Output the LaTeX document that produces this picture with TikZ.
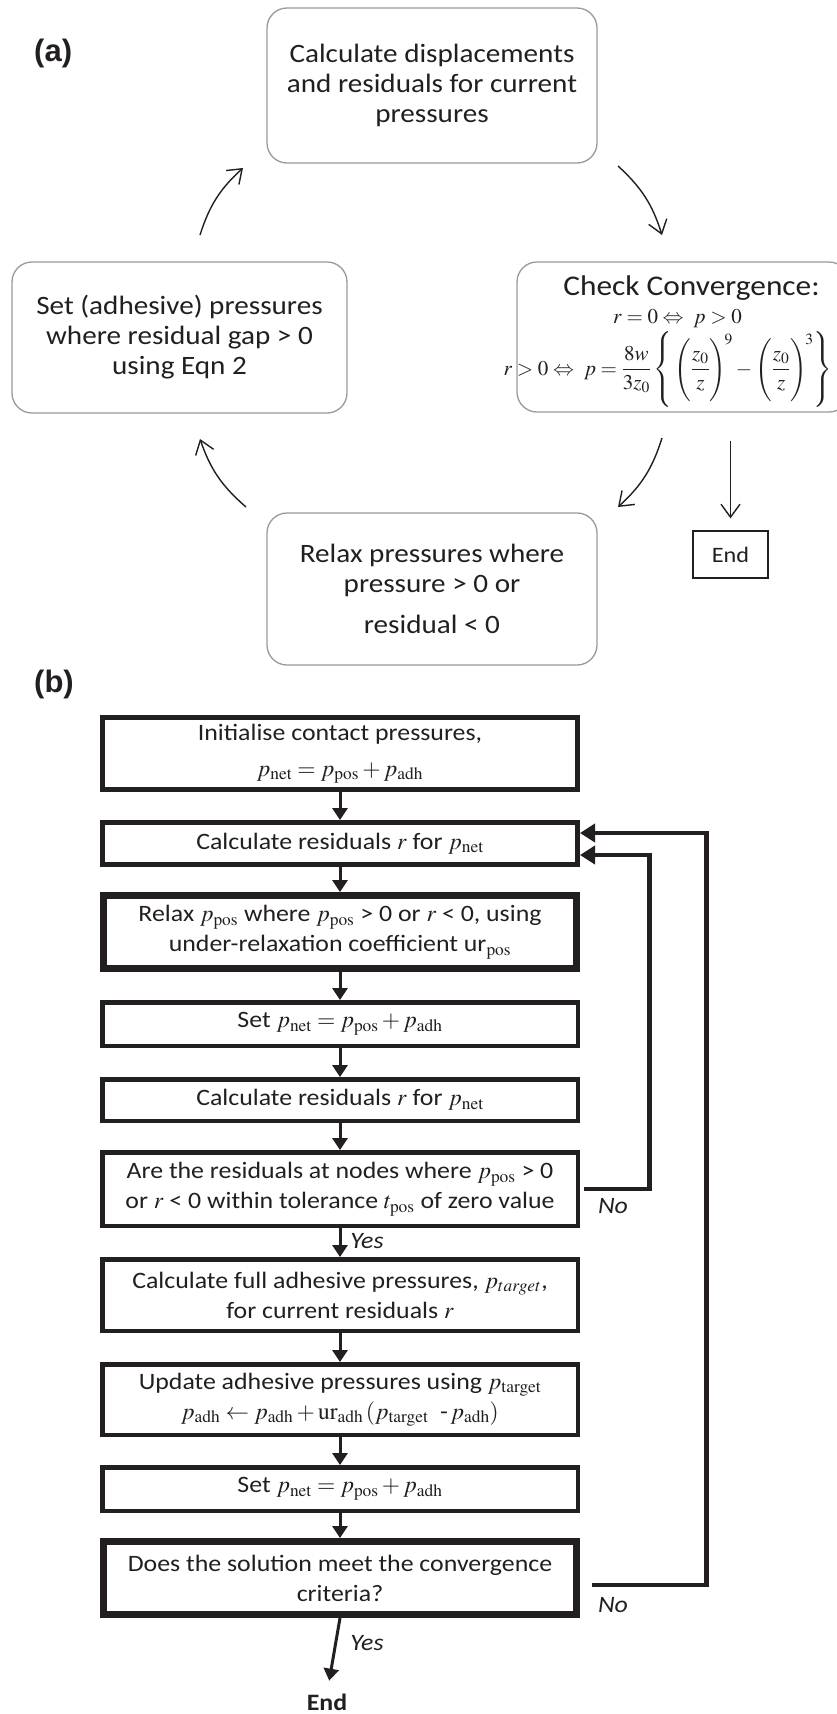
\documentclass[tikz,border=0pt]{standalone}
\usepackage{mathptmx}
\usepackage[no-math]{fontspec}
\setmainfont{Carlito}[FakeStretch=1.1]
\newfontfamily\arialf{Liberation Sans}
\usetikzlibrary{arrows.meta,calc}
\definecolor{txt}{HTML}{231F20}
\definecolor{boxgray}{HTML}{9A9A9A}
\begin{document}
\begin{tikzpicture}[x=1pt,y=-1pt,
  abox/.style={draw=boxgray, line width=1.3pt, rounded corners=20pt, align=center,
    font=\fontsize{26.5}{30}\selectfont, text=txt, inner sep=0pt},
  aarr/.style={draw=txt, line width=1.4pt, -{Straight Barb[length=13pt,width=19pt]}},
  bbox/.style={draw=txt, line width=4.5pt, minimum width=475.5pt, align=center,
    font=\fontsize{23.5}{30}\selectfont, text=txt, inner sep=0pt},
  bthick/.style={bbox, line width=7pt, minimum width=473pt},
  bmid/.style={bbox, line width=5pt, minimum width=475pt},
  barr/.style={draw=txt, line width=3pt, -{Triangle[length=12pt,width=15pt]}},
  fb/.style={draw=txt, line width=4.5pt, -{Triangle[length=15pt,width=18pt]}},
  lab/.style={font=\itshape\fontsize{23.5}{26}\selectfont, text=txt, inner sep=0pt},
  mtxt/.style={font=\fontsize{21}{24}\selectfont, text=txt, inner sep=0pt, anchor=base},
  plab/.style={font=\arialf\bfseries\fontsize{31}{33}\selectfont, text=txt, inner sep=0pt, anchor=west}
]
\useasboundingbox (0,0) rectangle (837,1714);
\clip (0,0) rectangle (837,1714);
\fill[white] (0,0) rectangle (837,1714);

% ---------- part (a) ----------
\node[plab] (la) at (34,53) {(a)};
\node[abox, minimum width=330pt, minimum height=155pt] (ta) at (432,85.5)
  {Calculate displacements\\and residuals for current\\pressures};
\node[abox, minimum width=335pt, minimum height=151pt] (le) at (179.5,337.5)
  {Set (adhesive) pressures\\where residual gap > 0\\using Eqn 2};
\node[abox, minimum width=332pt, minimum height=150pt] (ri) at (683,337) {};
\node[font=\fontsize{28.5}{30}\selectfont, text=txt, inner sep=0pt, anchor=base] (ri1) at (691.5,295) {Check Convergence:};
\node[mtxt] (ri2) at (677.5,323) {$r=0\Leftrightarrow\ p>0$};
\node[mtxt] (ri3) at (668,375)
  {$\displaystyle r>0\Leftrightarrow\ p=\frac{8w}{3z_0}\left\{\rule[-31pt]{0pt}{74pt}\left(\rule[-26pt]{0pt}{63pt}\frac{z_0}{z}\right)^{\!9}-\left(\rule[-26pt]{0pt}{63pt}\frac{z_0}{z}\right)^{\!3}\right\}$};
\node[abox, minimum width=330pt, minimum height=152pt] (bo) at (432,589)
  {Relax pressures where\\pressure > 0 or\\[11pt]residual < 0};
\node[draw=txt, line width=1.3pt, minimum width=75pt, minimum height=47pt, inner sep=0pt,
  font=\fontsize{22}{24}\selectfont, text=txt] (enda) at (730.5,554.5) {End};

\coordinate (a1s) at (200,235);  \coordinate (a1e) at (243,168);
\coordinate (a2s) at (618,166);  \coordinate (a2e) at (662,235);
\coordinate (a3s) at (662,438);  \coordinate (a3e) at (618,507);
\coordinate (a4s) at (246,507);  \coordinate (a4e) at (200,439);
\coordinate (a5s) at (730.5,441);
\draw[aarr] (a1s) to[bend left=15] (a1e);
\draw[aarr] (a2s) to[bend left=15] (a2e);
\draw[aarr] (a3s) to[bend left=15] (a3e);
\draw[aarr] (a4s) to[bend left=15] (a4e);
\draw[aarr, shorten >=12pt] (a5s) -- (enda.north);

% ---------- part (b) ----------
\node[plab] (lb) at (34,684) {(b)};
\node[bmid, minimum height=72pt] (b1) at (340,753.5)
  {Initialise contact pressures,\\[6pt]$p_{\mathrm{net}}=p_{\mathrm{pos}}+p_{\mathrm{adh}}$};
\node[bmid, minimum height=42pt] (b2) at (340,843.5)
  {Calculate residuals $r$ for $p_{\mathrm{net}}$};
\node[bthick, minimum height=73pt] (b3) at (340,932)
  {Relax $p_{\mathrm{pos}}$ where $p_{\mathrm{pos}}$ > 0 or $r$ < 0, using\\under-relaxation coefficient ur$_{\mathrm{pos}}$};
\node[bbox, minimum height=43.5pt] (b4) at (340,1024)
  {Set $p_{\mathrm{net}}=p_{\mathrm{pos}}+p_{\mathrm{adh}}$};
\node[bbox, minimum height=41.5pt] (b5) at (340,1100)
  {Calculate residuals $r$ for $p_{\mathrm{net}}$};
\node[bbox, minimum height=73.5pt] (b6) at (340,1189)
  {Are the residuals at nodes where $p_{\mathrm{pos}}$ > 0\\or $r$ < 0 within tolerance $t_{\mathrm{pos}}$ of zero value};
\node[bbox, minimum height=71.5pt] (b7) at (340,1295)
  {Calculate full adhesive pressures, $p_{target}$,\\for current residuals $r$};
\node[bbox, minimum height=70.5pt] (b8) at (340,1399.5)
  {Update adhesive pressures using $p_{\mathrm{target}}$\\$p_{\mathrm{adh}}\leftarrow p_{\mathrm{adh}}+\mathrm{ur}_{\mathrm{adh}}\,(p_{\mathrm{target}}\ \ \mbox{-}\,p_{\mathrm{adh}})$};
\node[bbox, minimum height=43.5pt] (b9) at (340,1489)
  {Set $p_{\mathrm{net}}=p_{\mathrm{pos}}+p_{\mathrm{adh}}$};
\node[bthick, minimum height=73pt] (b10) at (340,1578)
  {Does the solution meet the convergence\\criteria?};
\node[font=\bfseries\fontsize{23.5}{26}\selectfont, text=txt, inner sep=0pt] (endb) at (327,1702) {End};

\draw[barr] (b1.south) -- (b2.north);
\draw[barr] (b2.south) -- (b3.north);
\draw[barr] (b3.south) -- (b4.north);
\draw[barr] (b4.south) -- (b5.north);
\draw[barr] (b5.south) -- (b6.north);
\draw[barr] (b6.south) -- (b7.north);
\draw[barr] (b7.south) -- (b8.north);
\draw[barr] (b8.south) -- (b9.north);
\draw[barr] (b9.south) -- (b10.north);
\draw[barr, shorten >=13pt] (b10.south) -- (endb.north);
\node[lab] (yes1) at (367,1241) {Yes};
\node[lab] (yes2) at (367,1643) {Yes};

\draw[fb] ($(b6.east)+(4,0)$) -| ($(b2.east)+(69.5,11.5)$) -- ($(b2.east)+(0,11.5)$);
\draw[fb] ($(b10.east)+(11.5,7)$) -| ($(b2.east)+(126.5,-10.5)$) -- ($(b2.east)+(0,-10.5)$);
\node[lab] (no1) at (613,1206) {No};
\node[lab] (no2) at (613,1605) {No};
\end{tikzpicture}
\end{document}
